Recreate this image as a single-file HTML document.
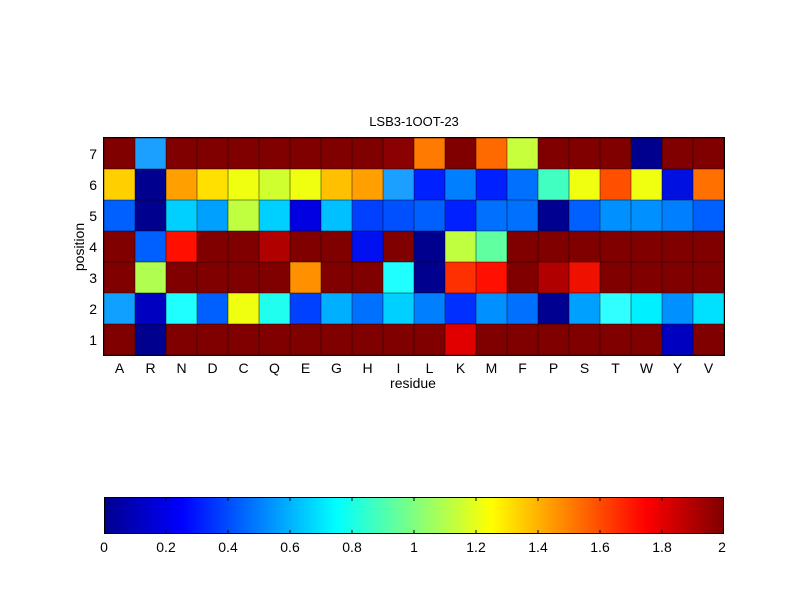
<!DOCTYPE html>
<html><head><style>
body{margin:0;background:#fff;width:800px;height:600px;position:relative;overflow:hidden;font-family:"Liberation Sans",sans-serif;color:#000}
#g{position:absolute;left:104px;top:138px;width:620px;height:217px;display:grid;grid-template-columns:repeat(20,1fr);grid-template-rows:repeat(7,1fr);outline:1px solid #000}
#g i{display:block;box-shadow:inset 0 0 0 0.5px rgba(0,0,0,0.45)}
#g i.d{background:#800000}
.t{position:absolute;font-size:13px;line-height:13px}
#cb{position:absolute;left:104px;top:497px;width:620px;height:37px;border:1px solid #000;box-sizing:border-box;
background:linear-gradient(to right,#00008f 0%,#0000ff 12.5%,#00ffff 37.5%,#ffff00 62.5%,#ff0000 87.5%,#800000 100%)}
</style></head><body>
<div class="t" style="left:364px;top:115px;width:100px;text-align:center">LSB3-1OOT-23</div>
<div id="g">
<i class="d"></i><i style="background:#1ca0ff"></i><i class="d"></i><i class="d"></i><i class="d"></i><i class="d"></i><i class="d"></i><i class="d"></i><i class="d"></i><i style="background:#8b0000"></i><i style="background:#ff7a00"></i><i class="d"></i><i style="background:#ff6a00"></i><i style="background:#c8ff3c"></i><i class="d"></i><i class="d"></i><i class="d"></i><i style="background:#00008f"></i><i class="d"></i><i class="d"></i>
<i style="background:#ffd000"></i><i style="background:#00008f"></i><i style="background:#ff9f00"></i><i style="background:#ffe000"></i><i style="background:#f0ff10"></i><i style="background:#d0ff30"></i><i style="background:#f0ff10"></i><i style="background:#ffc000"></i><i style="background:#ffa000"></i><i style="background:#1ca0ff"></i><i style="background:#0020ff"></i><i style="background:#0080ff"></i><i style="background:#0020ff"></i><i style="background:#0070ff"></i><i style="background:#40ffc0"></i><i style="background:#f0ff10"></i><i style="background:#ff5000"></i><i style="background:#f0ff10"></i><i style="background:#0010e0"></i><i style="background:#ff7000"></i>
<i style="background:#0060ff"></i><i style="background:#00008f"></i><i style="background:#00d0ff"></i><i style="background:#00a0ff"></i><i style="background:#c0ff40"></i><i style="background:#00d0ff"></i><i style="background:#0000e0"></i><i style="background:#00c0ff"></i><i style="background:#0040ff"></i><i style="background:#0050ff"></i><i style="background:#0060ff"></i><i style="background:#0020ff"></i><i style="background:#0070ff"></i><i style="background:#0070ff"></i><i style="background:#000090"></i><i style="background:#0060ff"></i><i style="background:#0090ff"></i><i style="background:#0090ff"></i><i style="background:#0080ff"></i><i style="background:#0060ff"></i>
<i class="d"></i><i style="background:#0060ff"></i><i style="background:#ff1000"></i><i class="d"></i><i class="d"></i><i style="background:#b00000"></i><i class="d"></i><i class="d"></i><i style="background:#0010f0"></i><i class="d"></i><i style="background:#00008f"></i><i style="background:#c0ff40"></i><i style="background:#60ffa0"></i><i class="d"></i><i class="d"></i><i class="d"></i><i class="d"></i><i class="d"></i><i class="d"></i><i class="d"></i>
<i class="d"></i><i style="background:#b0ff50"></i><i class="d"></i><i class="d"></i><i class="d"></i><i class="d"></i><i style="background:#ff9000"></i><i class="d"></i><i class="d"></i><i style="background:#20ffff"></i><i style="background:#00008f"></i><i style="background:#ff3000"></i><i style="background:#ff1000"></i><i class="d"></i><i style="background:#b00000"></i><i style="background:#f01000"></i><i class="d"></i><i class="d"></i><i class="d"></i><i class="d"></i>
<i style="background:#10a0ff"></i><i style="background:#0000c0"></i><i style="background:#20ffff"></i><i style="background:#0060ff"></i><i style="background:#f0ff10"></i><i style="background:#20ffef"></i><i style="background:#0040ff"></i><i style="background:#00b0ff"></i><i style="background:#0070ff"></i><i style="background:#00d0ff"></i><i style="background:#0080ff"></i><i style="background:#0030ff"></i><i style="background:#0090ff"></i><i style="background:#0070ff"></i><i style="background:#000090"></i><i style="background:#00a0ff"></i><i style="background:#30ffff"></i><i style="background:#00f0ff"></i><i style="background:#0090ff"></i><i style="background:#00e0ff"></i>
<i class="d"></i><i style="background:#00008f"></i><i class="d"></i><i class="d"></i><i class="d"></i><i class="d"></i><i class="d"></i><i class="d"></i><i class="d"></i><i class="d"></i><i class="d"></i><i style="background:#e00000"></i><i class="d"></i><i class="d"></i><i class="d"></i><i class="d"></i><i class="d"></i><i class="d"></i><i style="background:#0000c0"></i><i class="d"></i>
</div>
<svg width="800" height="600" style="position:absolute;left:0;top:0" font-family="Liberation Sans, sans-serif" font-size="14">
<g text-anchor="end">
<text x="97" y="159">7</text><text x="97" y="190">6</text><text x="97" y="221">5</text><text x="97" y="252">4</text><text x="97" y="283">3</text><text x="97" y="314">2</text><text x="97" y="345">1</text>
</g>
<text transform="translate(84,247) rotate(-90)" text-anchor="middle">position</text>
<g text-anchor="middle">
<text x="119.5" y="373">A</text><text x="150.5" y="373">R</text><text x="181.5" y="373">N</text><text x="212.5" y="373">D</text><text x="243.5" y="373">C</text><text x="274.5" y="373">Q</text><text x="305.5" y="373">E</text><text x="336.5" y="373">G</text><text x="367.5" y="373">H</text><text x="398.5" y="373">I</text><text x="429.5" y="373">L</text><text x="460.5" y="373">K</text><text x="491.5" y="373">M</text><text x="522.5" y="373">F</text><text x="553.5" y="373">P</text><text x="584.5" y="373">S</text><text x="615.5" y="373">T</text><text x="646.5" y="373">W</text><text x="677.5" y="373">Y</text><text x="708.5" y="373">V</text>
<text x="413" y="388">residue</text>
<text x="104" y="552">0</text><text x="166" y="552">0.2</text><text x="228" y="552">0.4</text><text x="290" y="552">0.6</text><text x="352" y="552">0.8</text><text x="414" y="552">1</text><text x="476" y="552">1.2</text><text x="538" y="552">1.4</text><text x="600" y="552">1.6</text><text x="662" y="552">1.8</text><text x="722" y="552">2</text>
</g>
</svg>
<div id="cb"></div>
<svg width="800" height="600" style="position:absolute;left:0;top:0">
<g stroke="#000" stroke-width="1">
<path d="M166 497v4M228 497v4M290 497v4M352 497v4M414 497v4M476 497v4M538 497v4M600 497v4M662 497v4M166 534v-4M228 534v-4M290 534v-4M352 534v-4M414 534v-4M476 534v-4M538 534v-4M600 534v-4M662 534v-4"/>
</g>
</svg>
</body></html>
